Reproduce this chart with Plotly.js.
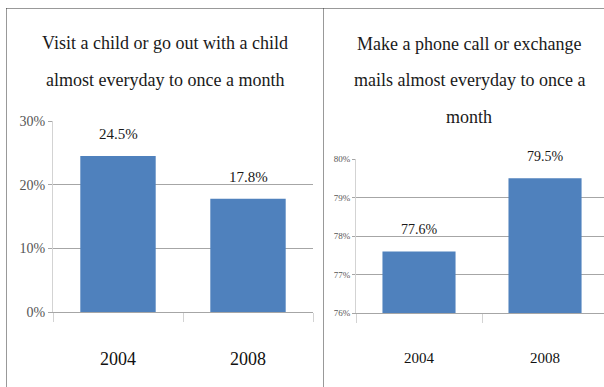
<!DOCTYPE html>
<html><head><meta charset="utf-8">
<script src="https://cdn.plot.ly/plotly-3.0.1.min.js"></script>
<style>html,body{margin:0;padding:0;background:#fff;}#chart{width:604px;height:387px;}</style>
</head><body><div id="chart"></div>
<script>
// ---- data ----
const years = ['2004', '2008'];
const visitChild = [24.5, 17.8];
const phoneMail = [77.6, 79.5];
const visitTitle = ['Visit a child or go out with a child', 'almost everyday to once a month'];
const phoneTitle = ['Make a phone call or exchange', 'mails almost everyday to once a', 'month'];

// ---- helpers (pixel -> paper) ----
const W = 604, H = 387;
const px = x => x / W;
const py = y => 1 - y / H;
const serif = 'Liberation Serif';
const barColor = '#4F81BD';
const gridC = '#a6a6a6';
const lightC = '#d3d3d3';

const traces = [
  {type: 'bar', x: years, y: visitChild, xaxis: 'x', yaxis: 'y', marker: {color: barColor}, hoverinfo: 'skip'},
  {type: 'bar', x: years, y: phoneMail, xaxis: 'x2', yaxis: 'y2', marker: {color: barColor}, hoverinfo: 'skip'}
];

const annotations = [];
const leftTitleY = [43, 80];
visitTitle.forEach((t, i) => annotations.push({
  text: t, xref: 'paper', yref: 'paper', x: px(165), y: py(leftTitleY[i]),
  xanchor: 'center', yanchor: 'middle', showarrow: false,
  font: {family: serif, size: 18, color: '#1a1a1a'}
}));
const rightTitleY = [44, 80, 117];
phoneTitle.forEach((t, i) => annotations.push({
  text: t, xref: 'paper', yref: 'paper', x: px(469), y: py(rightTitleY[i]),
  xanchor: 'center', yanchor: 'middle', showarrow: false,
  font: {family: serif, size: 18, color: '#1a1a1a'}
}));
years.forEach((yr, i) => {
  annotations.push({
    text: visitChild[i].toFixed(1) + '%', xref: 'x', yref: 'y', x: i, y: visitChild[i],
    xanchor: 'center', yanchor: 'bottom', yshift: 12, showarrow: false,
    font: {family: serif, size: 15, color: '#1a1a1a'}
  });
  annotations.push({
    text: phoneMail[i].toFixed(1) + '%', xref: 'x2', yref: 'y2', x: i, y: phoneMail[i],
    xanchor: 'center', yanchor: 'bottom', yshift: 12, showarrow: false,
    font: {family: serif, size: 14, color: '#1a1a1a'}
  });
});

const dotLine = {color: '#333', width: 1, dash: '1px,1px'};
const shapes = [
  {type: 'line', xref: 'paper', yref: 'paper', x0: px(6.5), x1: 1, y0: py(8.5), y1: py(8.5), line: dotLine},
  {type: 'line', xref: 'paper', yref: 'paper', x0: px(6.5), x1: px(6.5), y0: py(8.5), y1: 0, line: dotLine},
  {type: 'line', xref: 'paper', yref: 'paper', x0: px(323.5), x1: px(323.5), y0: py(8.5), y1: 0, line: dotLine}
];

const xBase = {
  type: 'category', tickson: 'boundaries', ticks: 'outside', ticklen: 9, tickcolor: lightC,
  showline: true, linecolor: gridC, showgrid: false, zeroline: false, fixedrange: true
};
const yBase = {
  showgrid: true, gridcolor: gridC, zeroline: false, showline: true, linecolor: lightC,
  ticks: 'outside', tickcolor: gridC, fixedrange: true
};

const layout = {
  width: W, height: H, margin: {l: 0, r: 0, t: 0, b: 0},
  paper_bgcolor: '#fff', plot_bgcolor: 'rgba(0,0,0,0)',
  showlegend: false, bargap: 0.42,
  xaxis: Object.assign({}, xBase, {
    domain: [px(53), px(313)], range: [-0.5, 1.5], anchor: 'y',
    tickfont: {family: serif, size: 18, color: '#111'}, ticklabelstandoff: 30
  }),
  yaxis: Object.assign({}, yBase, {
    domain: [py(312), py(121)], range: [0, 30], dtick: 10, ticksuffix: '%', ticklen: 4,
    anchor: 'x', tickfont: {family: serif, size: 14, color: '#555'}
  }),
  xaxis2: Object.assign({}, xBase, {
    domain: [px(356), 1], range: [-0.5, 1.468], anchor: 'y2',
    tickfont: {family: serif, size: 15, color: '#111'}, ticklabelstandoff: 31
  }),
  yaxis2: Object.assign({}, yBase, {
    domain: [py(313), py(159)], range: [76, 80], dtick: 1, ticksuffix: '%', ticklen: 3,
    anchor: 'x2', tickfont: {family: serif, size: 9, color: '#555'}
  }),
  annotations: annotations,
  shapes: shapes
};

Plotly.newPlot('chart', traces, layout, {staticPlot: true, displayModeBar: false});
</script>
</body></html>
